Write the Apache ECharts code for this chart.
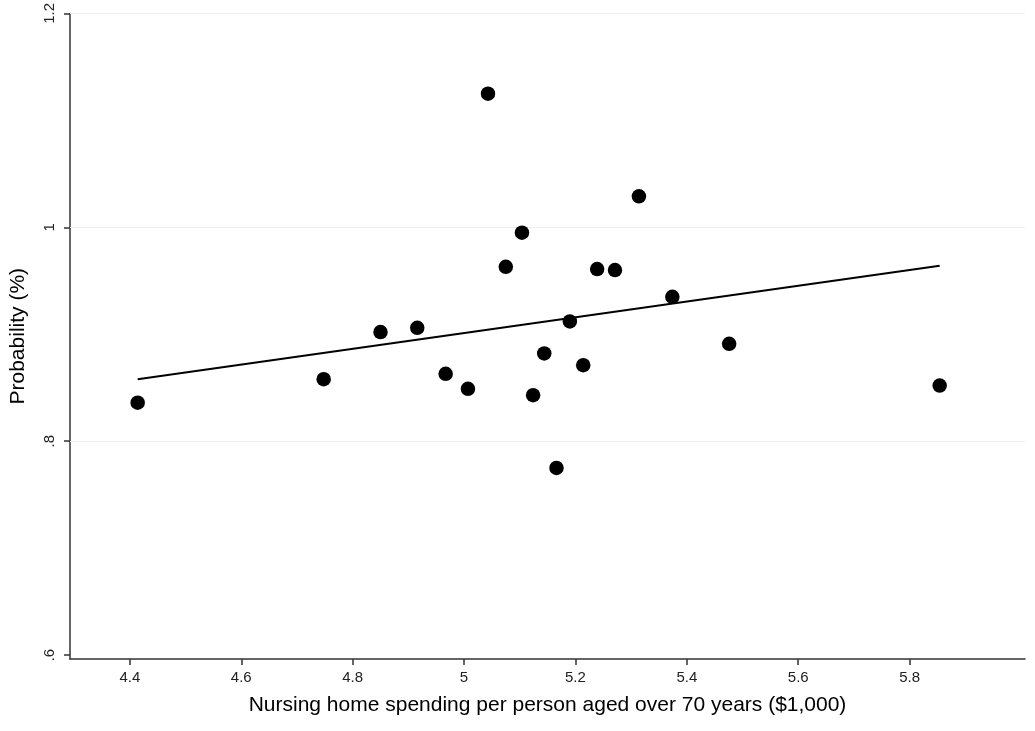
<!DOCTYPE html>
<html>
<head>
<meta charset="utf-8">
<script src="https://cdn.jsdelivr.net/npm/echarts@6/dist/echarts.min.js"></script>
<style>
html,body{margin:0;padding:0;background:#fff;}
#chart{width:1035px;height:731px;}
</style>
</head>
<body>
<div id="chart"></div>
<script>
// Scatter points: nursing home spending ($1,000) vs probability (%)
var spending = [4.414, 4.748, 4.850, 4.916, 4.967, 5.007, 5.043, 5.075, 5.104, 5.124,
                5.144, 5.166, 5.190, 5.214, 5.239, 5.271, 5.314, 5.374, 5.476, 5.854];
var probability = [0.836, 0.858, 0.902, 0.906, 0.863, 0.849, 1.125, 0.963, 0.995, 0.843,
                   0.882, 0.775, 0.912, 0.871, 0.961, 0.960, 1.029, 0.935, 0.891, 0.852];
// Fitted line endpoints
var fitX = [4.414, 5.854];
var fitY = [0.858, 0.964];
// Axis ticks
var xTicks = [4.4, 4.6, 4.8, 5.0, 5.2, 5.4, 5.6, 5.8];
var yTicks = [0.6, 0.8, 1.0, 1.2];
var yGrid = [0.8, 1.0, 1.2];
var xRange = [4.2925, 6.0072];
var yRange = [0.5963, 1.2];

var points = spending.map(function (x, i) { return [x, probability[i]]; });
var fitLine = fitX.map(function (x, i) { return [x, fitY[i]]; });

var chart = echarts.init(document.getElementById('chart'), null, {renderer: 'canvas'});
var font = '"Liberation Sans", Arial, sans-serif';
chart.setOption({
  animation: false,
  backgroundColor: '#ffffff',
  grid: {left: 68, right: 10, top: 13.3, bottom: 72, containLabel: false},
  xAxis: {
    type: 'value',
    min: xRange[0], max: xRange[1],
    name: 'Nursing home spending per person aged over 70 years ($1,000)',
    nameLocation: 'middle',
    nameGap: 36,
    nameTextStyle: {fontFamily: font, fontSize: 21, color: '#000'},
    axisLine: {show: true, onZero: false, lineStyle: {color: '#333', width: 1.5}},
    axisTick: {show: true, customValues: xTicks, length: 6, lineStyle: {color: '#333', width: 1.5}},
    axisLabel: {
      customValues: xTicks, margin: 11,
      fontFamily: font, fontSize: 15, color: '#222',
      formatter: function (v) { return String(Math.round(v * 10) / 10); }
    },
    splitLine: {show: false}
  },
  yAxis: {
    type: 'value',
    min: yRange[0], max: yRange[1],
    name: 'Probability (%)',
    nameLocation: 'middle',
    nameGap: 41,
    nameRotate: 90,
    nameTextStyle: {fontFamily: font, fontSize: 21, color: '#000'},
    axisLine: {show: true, onZero: false, lineStyle: {color: '#333', width: 1.5}},
    axisTick: {show: true, customValues: yTicks, length: 6, lineStyle: {color: '#333', width: 1.5}},
    axisLabel: {
      customValues: yTicks, margin: 13, rotate: 90,
      fontFamily: font, fontSize: 15, color: '#222',
      formatter: function (v) {
        var s = String(Math.round(v * 10) / 10);
        return s.replace(/^0\./, '.');
      }
    },
    splitLine: {show: false}
  },
  series: [
    {
      type: 'line',
      data: fitLine,
      showSymbol: false,
      symbol: 'none',
      lineStyle: {color: '#000', width: 2},
      z: 2,
      silent: true,
      markLine: {
        silent: true,
        symbol: ['none', 'none'],
        label: {show: false},
        lineStyle: {color: '#eaf2f3', width: 1.2, type: 'solid'},
        data: yGrid.map(function (v) { return {yAxis: v}; }),
        z: 1
      }
    },
    {
      type: 'scatter',
      data: points,
      symbol: 'circle',
      symbolSize: 14.5,
      itemStyle: {color: '#000', opacity: 1},
      z: 3
    }
  ]
});
</script>
</body>
</html>
